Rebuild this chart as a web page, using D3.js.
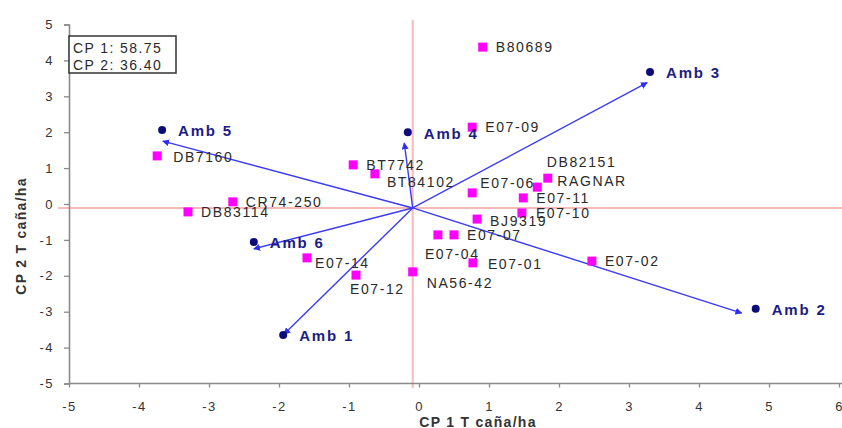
<!DOCTYPE html>
<html>
<head>
<meta charset="utf-8">
<script src="https://cdn.jsdelivr.net/npm/d3@7"></script>
<style>
  body { margin: 0; background: #fff; }
  svg { font-family: "Liberation Sans", Arial, sans-serif; }
</style>
</head>
<body>
<svg id="biplot" width="842" height="428"></svg>
<script>
// genotipos (cuadrados magenta)
const genotipos = ["B80689", "E07-09", "BT7742", "BT84102", "DB82151", "RAGNAR", "E07-06",
  "E07-11", "E07-10", "BJ9319", "E07-07", "E07-04", "E07-01", "NA56-42", "E07-12",
  "E07-14", "E07-02", "DB7160", "CR74-250", "DB83114"];
const genCP1 = [0.91, 0.76, -0.94, -0.63, 1.84, 1.69, 0.76, 1.49, 1.47, 0.83, 0.50, 0.27,
  0.77, -0.09, -0.90, -1.60, 2.47, -3.74, -2.66, -3.30];
const genCP2 = [4.37, 2.14, 1.09, 0.84, 0.72, 0.47, 0.31, 0.17, -0.25, -0.42, -0.86, -0.86,
  -1.64, -1.89, -1.98, -1.50, -1.59, 1.34, 0.06, -0.22];

// ambientes (puntos) y punta de los vectores
const ambientes = ["Amb 1", "Amb 2", "Amb 3", "Amb 4", "Amb 5", "Amb 6"];
const ambCP1 = [-1.94, 4.81, 3.30, -0.16, -3.67, -2.36];
const ambCP2 = [-3.65, -2.92, 3.68, 2.00, 2.06, -1.06];
const vecCP1 = [-1.93, 4.61, 3.26, -0.21, -3.66, -2.36];
const vecCP2 = [-3.63, -3.04, 3.38, 1.70, 1.75, -1.25];
const origen = [-0.09, -0.11];

const xTicks = [-5, -4, -3, -2, -1, 0, 1, 2, 3, 4, 5, 6];
const yTicks = [-5, -4, -3, -2, -1, 0, 1, 2, 3, 4, 5];
const inercia = ["CP 1: 58.75", "CP 2: 36.40"];
const tituloX = "CP 1 T caña/ha";
const tituloY = "CP 2 T caña/ha";

// desplazamiento de etiquetas [dx, dy]
const desp = {
  "BT84102": [12, 8], "DB82151": [-1, -16], "RAGNAR": [20, -6], "E07-06": [8, -10],
  "BJ9319": [13, 2], "E07-04": [-13, 19], "NA56-42": [14, 11], "E07-12": [-6, 14],
  "E07-14": [8, 5], "E07-10": [14, 0], "E07-01": [15, 1], "DB7160": [16, 1]
};

const svg = d3.select("#biplot");
const x = d3.scaleLinear().domain([-5, 6]).range([69, 839]);
const y = d3.scaleLinear().domain([-5, 5]).range([383.5, 24.5]);

svg.append("defs").append("marker")
  .attr("id", "punta")
  .attr("viewBox", "0 0 10 10")
  .attr("refX", 9).attr("refY", 5)
  .attr("markerWidth", 7).attr("markerHeight", 7)
  .attr("markerUnits", "userSpaceOnUse")
  .attr("orient", "auto")
  .append("path").attr("d", "M0,0 L10,5 L0,10 Z").attr("fill", "#2e2ef0");

// lineas de referencia rosadas
svg.append("line")
  .attr("x1", 58).attr("x2", 842)
  .attr("y1", y(origen[1])).attr("y2", y(origen[1]))
  .attr("stroke", "#f7b9b9").attr("stroke-width", 2);
svg.append("line")
  .attr("x1", x(origen[0])).attr("x2", x(origen[0]))
  .attr("y1", 20).attr("y2", 388)
  .attr("stroke", "#f7b9b9").attr("stroke-width", 2);

// ejes
const fmt = d => String(d);
const ejeX = svg.append("g").attr("transform", "translate(0,383.5)")
  .call(d3.axisBottom(x).tickValues(xTicks).tickSize(4).tickPadding(14).tickFormat(fmt));
const ejeY = svg.append("g").attr("transform", "translate(69,0)")
  .call(d3.axisLeft(y).tickValues(yTicks).tickSize(5).tickPadding(10).tickFormat(fmt));
[ejeX, ejeY].forEach(g => {
  g.select(".domain").attr("stroke", "#8a8a8a").attr("stroke-width", 1.6);
  g.selectAll(".tick line").attr("stroke", "#8a8a8a").attr("stroke-width", 1.3);
  g.selectAll(".tick text").attr("fill", "#333").attr("font-size", 13)
    .style("letter-spacing", "1.5px");
});
ejeX.select(".domain").attr("d", "M69,0H842");

// vectores
svg.append("g").selectAll("line").data(ambientes).join("line")
  .attr("x1", x(origen[0])).attr("y1", y(origen[1]))
  .attr("x2", (d, i) => x(vecCP1[i])).attr("y2", (d, i) => y(vecCP2[i]))
  .attr("stroke", "#3b3bf5").attr("stroke-width", 1.4)
  .attr("marker-end", "url(#punta)");

// genotipos
svg.append("g").selectAll("rect").data(genotipos).join("rect")
  .attr("x", (d, i) => x(genCP1[i]) - 4.5).attr("y", (d, i) => y(genCP2[i]) - 4.5)
  .attr("width", 9).attr("height", 9).attr("fill", "#ff00ff");
svg.append("g").selectAll("text").data(genotipos).join("text")
  .attr("x", (d, i) => x(genCP1[i]) + (desp[d] ? desp[d][0] : 13))
  .attr("y", (d, i) => y(genCP2[i]) + (desp[d] ? desp[d][1] : 0))
  .attr("dy", "0.36em")
  .attr("font-size", 14).attr("fill", "#2a2a2a")
  .style("letter-spacing", "1.6px")
  .text(d => d);

// ambientes
svg.append("g").selectAll("circle").data(ambientes).join("circle")
  .attr("cx", (d, i) => x(ambCP1[i])).attr("cy", (d, i) => y(ambCP2[i]))
  .attr("r", 4).attr("fill", "#0c0c78");
svg.append("g").selectAll("text").data(ambientes).join("text")
  .attr("x", (d, i) => x(ambCP1[i]) + 16).attr("y", (d, i) => y(ambCP2[i]) + 1)
  .attr("dy", "0.36em")
  .attr("font-size", 15).attr("font-weight", "bold").attr("fill", "#1c1c86")
  .style("letter-spacing", "1.8px")
  .text(d => d);

// cuadro de inercia
svg.append("rect").attr("x", 69).attr("y", 36).attr("width", 107).attr("height", 37)
  .attr("fill", "#fff").attr("stroke", "#333").attr("stroke-width", 1.5);
svg.append("g").selectAll("text").data(inercia).join("text")
  .attr("x", 73).attr("y", (d, i) => 53 + i * 17)
  .attr("font-size", 14).attr("fill", "#2a2a2a")
  .style("letter-spacing", "1.4px")
  .text(d => d);

// titulos
svg.append("text").attr("x", 478).attr("y", 427)
  .attr("text-anchor", "middle").attr("font-size", 14).attr("font-weight", "bold")
  .attr("fill", "#333").style("letter-spacing", "1.3px").text(tituloX);
svg.append("text").attr("transform", "translate(26,236) rotate(-90)")
  .attr("text-anchor", "middle").attr("font-size", 14).attr("font-weight", "bold")
  .attr("fill", "#333").style("letter-spacing", "1.3px").text(tituloY);
</script>
</body>
</html>
